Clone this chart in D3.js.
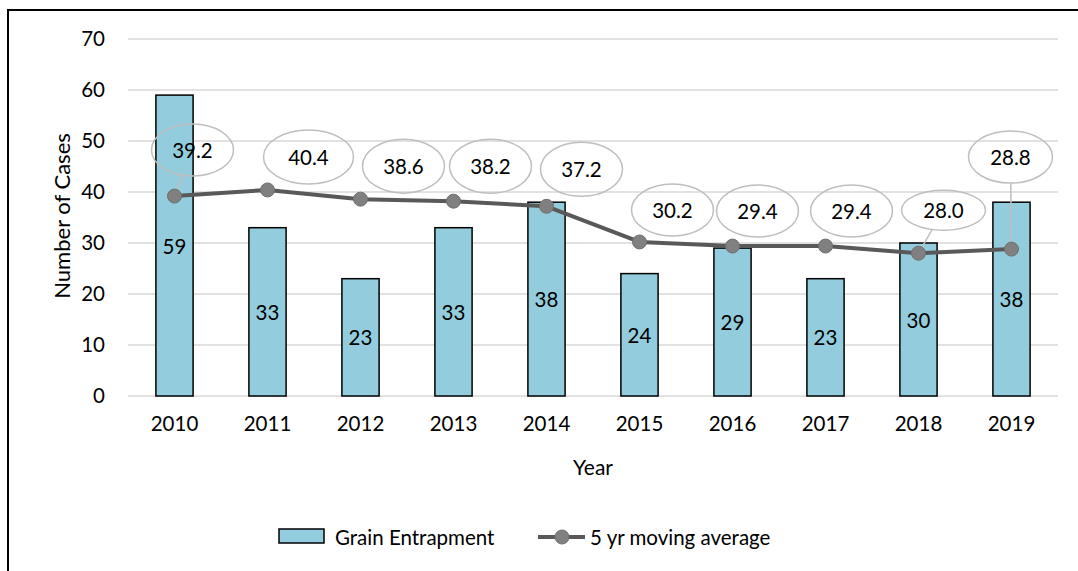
<!DOCTYPE html>
<html>
<head>
<meta charset="utf-8">
<script src="https://cdn.jsdelivr.net/npm/d3@7"></script>
<style>
  html, body { margin: 0; padding: 0; background: #fff; }
  svg { display: block; }
  text { font-family: Lato, "Open Sans", sans-serif; fill: #000; }
</style>
</head>
<body>
<svg id="chart" width="1078" height="571"></svg>
<script>
// ---- data ----
const years = ["2010","2011","2012","2013","2014","2015","2016","2017","2018","2019"];
const entrapments = [59, 33, 23, 33, 38, 24, 29, 23, 30, 38];
const movingAvg = [39.2, 40.4, 38.6, 38.2, 37.2, 30.2, 29.4, 29.4, 28.0, 28.8];
const yTicks = [0, 10, 20, 30, 40, 50, 60, 70];
const seriesNames = ["Grain Entrapment", "5 yr moving average"];

// ---- layout (callout offsets relative to points, in px) ----
const calloutOffsets = [
  {dx: 18, dy: -46, rx: 41, ry: 26, leader: true},
  {dx: 41, dy: -33, rx: 45, ry: 27, leader: false},
  {dx: 43, dy: -33, rx: 41, ry: 27, leader: false},
  {dx: 37, dy: -35, rx: 41, ry: 27, leader: false},
  {dx: 35, dy: -37, rx: 41, ry: 27, leader: false},
  {dx: 33, dy: -32, rx: 41, ry: 26, leader: false},
  {dx: 25, dy: -35, rx: 41, ry: 26, leader: false},
  {dx: 26, dy: -35, rx: 41, ry: 26, leader: false},
  {dx: 25, dy: -43, rx: 42, ry: 20, leader: true},
  {dx: -1, dy: -92, rx: 42, ry: 26, leader: true}
];
const FS = 20.5;

const svg = d3.select("#chart");
const plot = {left: 128, right: 1058, top: 39, bottom: 396};

const x = d3.scaleBand().domain(years).range([plot.left, plot.right]).paddingInner(0.6).paddingOuter(0.3);
const xc = d => x(d) + x.bandwidth() / 2;
const y = d3.scaleLinear().domain([0, 70]).range([plot.bottom, plot.top]);

// frame
svg.append("path")
  .attr("d", `M8,571 L8,10 L1078,10`)
  .attr("fill", "none").attr("stroke", "#000").attr("stroke-width", 2);

// gridlines
svg.append("g").selectAll("line").data(yTicks).join("line")
  .attr("x1", plot.left).attr("x2", plot.right)
  .attr("y1", d => y(d)).attr("y2", d => y(d))
  .attr("stroke", "#d9d9d9").attr("stroke-width", 1.5);

// y axis labels via d3 axis
const yAxis = svg.append("g").attr("transform", `translate(${plot.left},0)`)
  .call(d3.axisLeft(y).tickValues(yTicks).tickSize(0).tickPadding(23));
yAxis.select(".domain").remove();
yAxis.selectAll("text").attr("font-family", "Lato, 'Open Sans', sans-serif").attr("font-size", FS).attr("fill", "#000");

// x axis labels
const xAxis = svg.append("g").attr("transform", `translate(0,${plot.bottom})`)
  .call(d3.axisBottom(x).tickSize(0).tickPadding(20));
xAxis.select(".domain").remove();
xAxis.selectAll("text").attr("font-family", "Lato, 'Open Sans', sans-serif").attr("font-size", FS).attr("fill", "#000");

// bars
svg.append("g").selectAll("rect").data(entrapments).join("rect")
  .attr("x", (d, i) => x(years[i]))
  .attr("y", d => y(d))
  .attr("width", x.bandwidth())
  .attr("height", d => y(0) - y(d))
  .attr("fill", "#93cddd")
  .attr("stroke", "#000").attr("stroke-width", 1.5);

// bar labels
svg.append("g").selectAll("text").data(entrapments).join("text")
  .attr("x", (d, i) => xc(years[i]))
  .attr("y", d => (y(d) + y(0)) / 2)
  .attr("text-anchor", "middle").attr("dominant-baseline", "central")
  .attr("font-size", FS)
  .text(d => d);

// line
const line = d3.line().x((d, i) => xc(years[i])).y(d => y(d));
svg.append("path").datum(movingAvg)
  .attr("d", line).attr("fill", "none")
  .attr("stroke", "#595959").attr("stroke-width", 4).attr("stroke-linejoin", "round");

// leader lines
const callouts = movingAvg.map((v, i) => {
  const px = xc(years[i]), py = y(v), o = calloutOffsets[i];
  return {v, px, py, cx: px + o.dx, cy: py + o.dy, rx: o.rx, ry: o.ry, leader: o.leader};
});
function edge(c) {
  const ang = Math.atan2(c.py - c.cy, c.px - c.cx);
  const t = Math.atan2(Math.sin(ang) / c.ry, Math.cos(ang) / c.rx);
  return [c.cx + c.rx * Math.cos(t), c.cy + c.ry * Math.sin(t)];
}
svg.append("g").selectAll("line").data(callouts.filter(c => c.leader)).join("line")
  .attr("x1", c => c.px).attr("y1", c => c.py)
  .attr("x2", c => edge(c)[0]).attr("y2", c => edge(c)[1])
  .attr("stroke", "#bfbfbf").attr("stroke-width", 1.5);

// markers
svg.append("g").selectAll("circle").data(movingAvg).join("circle")
  .attr("cx", (d, i) => xc(years[i])).attr("cy", d => y(d)).attr("r", 7)
  .attr("fill", "#808080").attr("stroke", "#707070").attr("stroke-width", 1);

// callout ellipses
const cg = svg.append("g");
cg.selectAll("ellipse").data(callouts).join("ellipse")
  .attr("cx", c => c.cx).attr("cy", c => c.cy).attr("rx", c => c.rx).attr("ry", c => c.ry)
  .attr("fill", "none").attr("stroke", "#bfbfbf").attr("stroke-width", 1.5);
cg.selectAll("text").data(callouts).join("text")
  .attr("x", c => c.cx).attr("y", c => c.cy)
  .attr("text-anchor", "middle").attr("dominant-baseline", "central")
  .attr("font-size", FS)
  .text(c => c.v.toFixed(1));

// axis titles
svg.append("text").attr("x", 593).attr("y", 466)
  .attr("text-anchor", "middle").attr("dominant-baseline", "central")
  .attr("font-size", 21).text("Year");
svg.append("text").attr("transform", "translate(61,216) rotate(-90)")
  .attr("text-anchor", "middle").attr("dominant-baseline", "central")
  .attr("font-size", 22).text("Number of Cases");

// legend
const lg = svg.append("g");
lg.append("rect").attr("x", 279).attr("y", 529).attr("width", 45).attr("height", 14)
  .attr("fill", "#93cddd").attr("stroke", "#000").attr("stroke-width", 1.5);
lg.append("text").attr("x", 335).attr("y", 537).attr("dominant-baseline", "central")
  .attr("font-size", 20.5).text(seriesNames[0]);
lg.append("line").attr("x1", 538).attr("x2", 585).attr("y1", 537).attr("y2", 537)
  .attr("stroke", "#595959").attr("stroke-width", 4);
lg.append("circle").attr("cx", 562).attr("cy", 537).attr("r", 7)
  .attr("fill", "#808080").attr("stroke", "#707070").attr("stroke-width", 1);
lg.append("text").attr("x", 590).attr("y", 537).attr("dominant-baseline", "central")
  .attr("font-size", 20.5).text(seriesNames[1]);
</script>
</body>
</html>
